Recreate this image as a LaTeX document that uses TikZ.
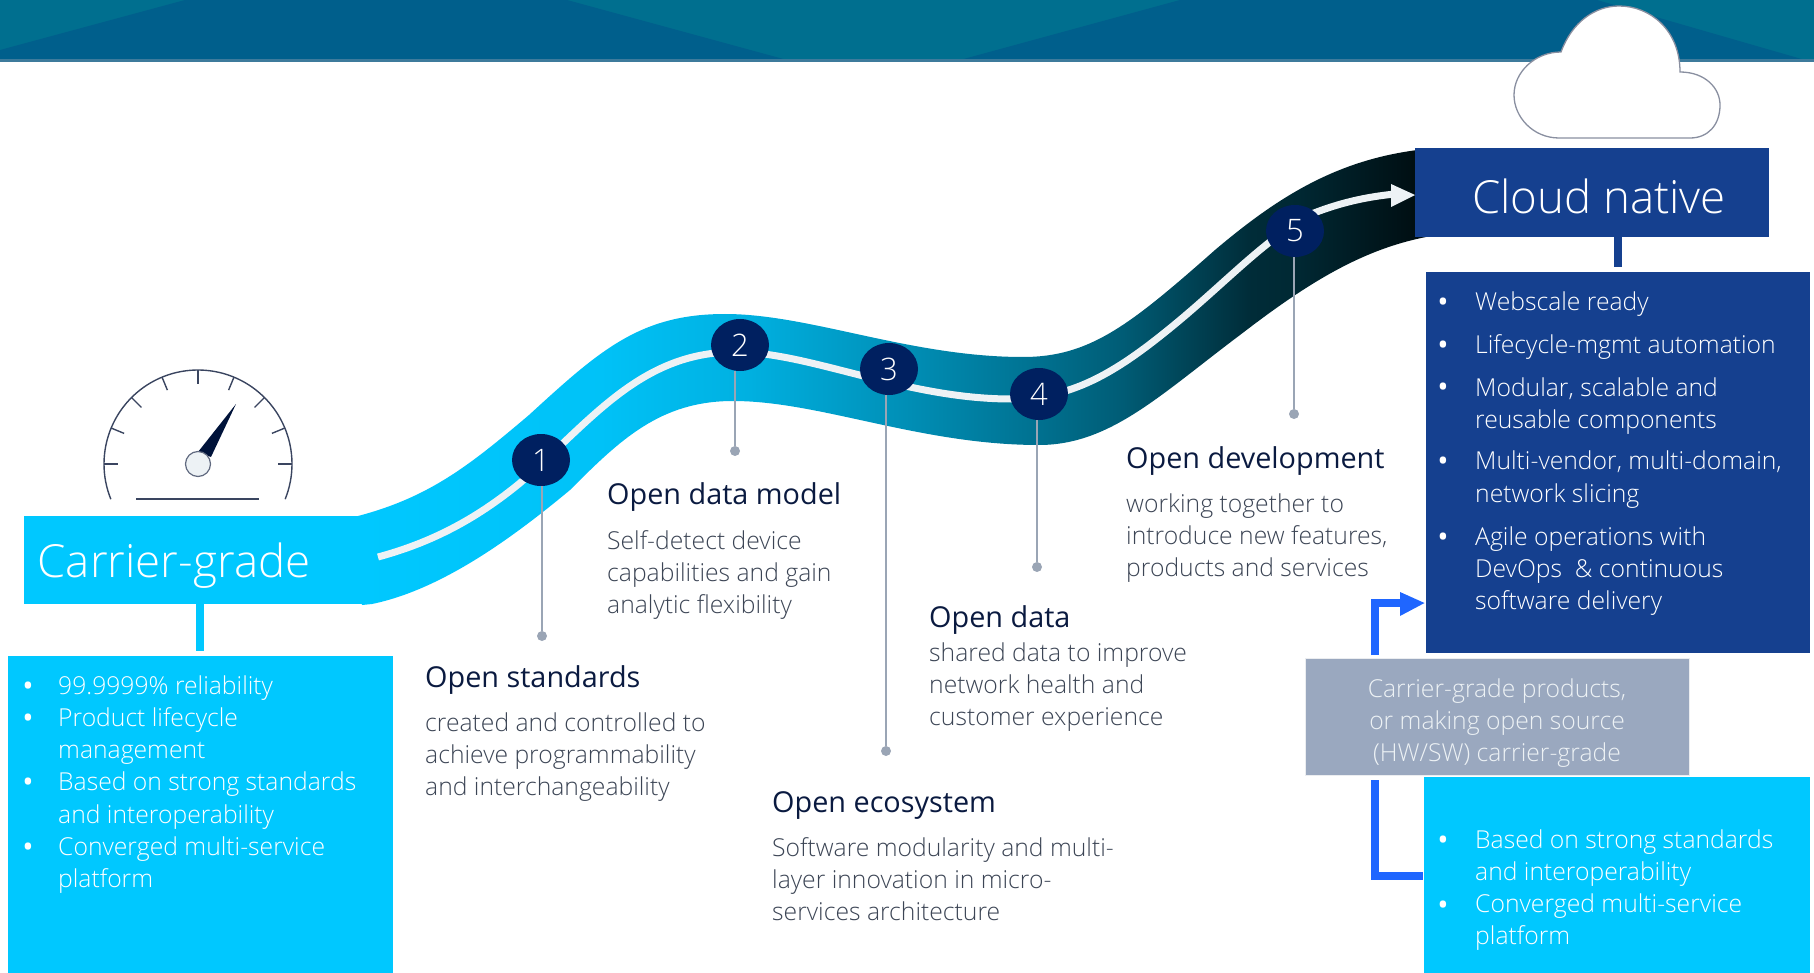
\documentclass[tikz,border=0pt]{standalone}
\usepackage{fontspec}
\setmainfont{Open Sans Light}
\newfontfamily\headf{Open Sans}
\usetikzlibrary{shapes.geometric,calc}
\definecolor{cyanb}{HTML}{00C8FF}
\definecolor{navyb}{HTML}{15408F}
\definecolor{numc}{HTML}{002060}
\definecolor{leader}{HTML}{9AA5B5}
\definecolor{greyb}{HTML}{9AA8BF}
\definecolor{offw}{HTML}{EDF2F5}
\definecolor{headt}{HTML}{006F8F}
\definecolor{headd}{HTML}{005F8C}
\definecolor{gaugec}{HTML}{3A4560}
\definecolor{headtxt}{HTML}{0A1A40}
\definecolor{bodytxt}{HTML}{3C4555}
\definecolor{arrowb}{HTML}{1F66FF}
\pgfdeclarehorizontalshading{ribbonsh}{100bp}{
 color(0bp)=(cyanb); color(25bp)=(cyanb);
 color(36.3bp)=(cyanb!97!black);
 color(43.3bp)=(cyanb!88!black);
 color(50.4bp)=(cyanb!72!black);
 color(57bp)=(cyanb!56!black);
 color(60.8bp)=(cyanb!46!black);
 color(66.8bp)=(cyanb!22!black);
 color(69bp)=(cyanb!20!black);
 color(75bp)=(cyanb!6!black);
 color(100bp)=(cyanb!6!black)}
\tikzset{
 x=1pt,y=-1pt,
 boxc/.style={fill=cyanb,draw=none},
 boxn/.style={fill=navyb,draw=none},
 numnode/.style={ellipse,fill=numc,minimum width=58pt,minimum height=52pt,inner sep=0pt,text=white,font=\fontsize{31}{31}\selectfont},
 dotnode/.style={circle,fill=leader,minimum size=10pt,inner sep=0pt},
 leaderl/.style={draw=leader,line width=2.8pt},
 headn/.style={anchor=west,inner sep=0pt,text=headtxt,font=\headf\fontsize{28.8}{32}\selectfont},
 bodyn/.style={anchor=west,inner sep=0pt,align=left,text=bodytxt,font=\fontsize{24.7}{32.2}\selectfont},
 listn/.style={anchor=west,inner sep=0pt,align=left,text=white,font=\fontsize{24.7}{32.2}\selectfont},
 buln/.style={inner sep=0pt,text=white,font=\headf\fontsize{30}{30}\selectfont},
 titlen/.style={inner sep=0pt,text=white,font=\fontsize{45.6}{46}\selectfont},
 gaugel/.style={draw=gaugec,line width=1.4pt},
 arrowl/.style={draw=arrowb,line width=8pt},
}
\begin{document}
\begin{tikzpicture}
\useasboundingbox (0,0) rectangle (1814,973);
% header
\fill[headt] (0,0) rectangle (1814,60);
\fill[headd] (185,0) -- (567,0) -- (787,60) -- (0,60) -- (0,50) -- cycle;
\fill[headd] (1180,0) -- (1597,0) -- (1805,60) -- (960,60) -- cycle;
\fill[leader!40!headd] (0,59) rectangle (1814,62);
% cloud
\draw[fill=white,draw=gaugec!60,line width=1.3pt] (1561,52)
  .. controls (1572,22) and (1595,6) .. (1619,6)
  .. controls (1650,6) and (1680,30) .. (1680,72)
  .. controls (1705,72) and (1720,88) .. (1720,105)
  .. controls (1720,125) and (1708,138) .. (1690,138)
  -- (1559,138)
  .. controls (1533,138) and (1514,117) .. (1514,95)
  .. controls (1514,72) and (1535,52) .. (1561,52) -- cycle;
% ribbon
\path[shading=ribbonsh] (358,516)
  .. controls (430,497) and (470,465) .. (529,415)
  .. controls (600,350) and (640,314) .. (725,314)
  .. controls (810,314) and (910,357) .. (1023,357)
  .. controls (1090,357) and (1130,325) .. (1215,250)
  .. controls (1280,195) and (1340,158) .. (1426,149)
  -- (1426,237)
  .. controls (1360,250) and (1305,285) .. (1240,335)
  .. controls (1160,395) and (1110,445) .. (1039,445)
  .. controls (920,445) and (820,401) .. (733,401)
  .. controls (660,401) and (620,440) .. (570,490)
  .. controls (510,540) and (440,590) .. (372,604)
  -- (362,605) -- cycle;
% white centre line
\draw[offw,line width=7pt] (378,557)
  .. controls (430,543) and (475,520) .. (520,483)
  .. controls (590,422) and (640,352) .. (735,352)
  .. controls (810,352) and (905,399) .. (1011,399)
  .. controls (1075,399) and (1120,370) .. (1180,320)
  .. controls (1230,278) and (1270,235) .. (1314,213)
  .. controls (1340,203) and (1365,197) .. (1395,194);
\fill[offw] (1391,184) -- (1415,195) -- (1391,207) -- cycle;
% boxes
\fill[boxc] (24,516) rectangle (362,604);
\node[titlen] (tcg) at (174,566) {Carrier-grade};
\fill[boxc] (196,604) rectangle (204,651);
\fill[boxc] (8,656) rectangle (393,973);
\fill[boxn] (1415,148) rectangle (1769,237);
\node[titlen] (tcn) at (1599,196) {Cloud native};
\fill[boxn] (1614,237) rectangle (1622,267);
\fill[boxn] (1426,272) rectangle (1810,653);
\fill[boxc] (1424,777) rectangle (1810,973);
\draw[fill=greyb,draw=white!80!leader,line width=1pt] (1305,658) rectangle (1689,775);
% blue arrows
\coordinate (au) at (1375,655);
\coordinate (ak) at (1402,603);
\draw[arrowl] (au) -- (au |- ak) -- (ak);
\fill[arrowb] (1400,592) -- (1424.5,603) -- (1400,616) -- cycle;
\coordinate (al) at (1375,780);
\coordinate (am) at (1423,876);
\draw[arrowl] (al) -- (al |- am) -- (am);
% gauge
\begin{scope}[shift={(198,464)}]
 \draw[gaugel] plot[domain=202:-22,samples=80] ({94*cos(\x)},{94*sin(-\x)});
 \foreach \a in {0,22.5,45,67.5,90,112.5,135,157.5,180}
  \draw[gaugel] ({94*cos(\a)},{-94*sin(\a)}) -- ({80*cos(\a)},{-80*sin(\a)});
 \draw[gaugel] (-62,35) -- (61,35);
 \fill[numc!60!black] (0,-12) -- (38,-60) -- (13,-7) -- cycle;
 \draw[fill=offw,draw=gaugec!80,line width=1.2pt] (0,0) circle (12.5);
\end{scope}
% leaders and numbered nodes
\node[dotnode] (d1) at (542,636) {};
\node[dotnode] (d2) at (735,451) {};
\node[dotnode] (d3) at (886,751) {};
\node[dotnode] (d4) at (1037,567) {};
\node[dotnode] (d5) at (1294,414) {};
\node[numnode] (c1) at (541,460) {\raisebox{-4pt}{1}};
\node[numnode] (c2) at (740,345) {\raisebox{-4pt}{2}};
\node[numnode] (c3) at (889,369) {\raisebox{-4pt}{3}};
\node[numnode] (c4) at (1039,394) {\raisebox{-4pt}{4}};
\node[numnode] (c5) at (1295,231) {\raisebox{-4pt}{5}};
\draw[leaderl] (d1) -- (d1 |- c1.south);
\draw[leaderl] (d2) -- (d2 |- c2.south);
\draw[leaderl] (d3) -- (d3 |- c3.south);
\draw[leaderl] (d4) -- (d4 |- c4.south);
\draw[leaderl] (d5) -- (d5 |- c5.south);
% text
\node[headn] (h1) at (425,680) {Open standards};
\node[bodyn] (t1) at (425,757) {created and controlled to\\achieve programmability\\and interchangeability};
\node[headn] (h2) at (607,497.5) {Open data model};
\node[bodyn] (t2) at (607,575) {Self-detect device\\capabilities and gain\\analytic flexibility};
\node[headn] (h3) at (772,805.5) {Open ecosystem};
\node[bodyn] (t3) at (772,879) {Software modularity and multi-\\layer innovation in micro-\\services architecture};
\node[headn] (h4) at (929,620) {Open data};
\node[bodyn] (t4) at (929,687) {shared data to improve\\network health and\\customer experience};
\node[headn] (h5) at (1126,461.5) {Open development};
\node[bodyn] (t5) at (1126,538) {working together to\\introduce new features,\\products and services};
% left list
\node[listn] (ll) at (58,784.5) {99.9999\% reliability\\Product lifecycle\\management\\Based on strong standards\\and interoperability\\Converged multi-service\\platform};
\foreach \n/\y in {a/689,b/721,c/785,d/850}
  \node[buln] (bl\n) at (28,\y) {•};
% right list
\node[listn] (rl) at (1475,453.5) {Webscale ready\\[11pt]Lifecycle-mgmt automation\\[11pt]Modular, scalable and\\reusable components\\[9pt]Multi-vendor, multi-domain,\\network slicing\\[11pt]Agile operations with\\DevOps~ \& continuous\\software delivery};
\foreach \n/\y in {a/305,b/348,c/390,d/464,e/540}
  \node[buln] (br\n) at (1443,\y) {•};
% grey box
\node[listn,anchor=center,align=center,text=offw] (gt) at (1497,723) {Carrier-grade products,\\or making open source\\(HW/SW) carrier-grade};
% right cyan list
\node[listn] (rc) at (1475,890) {Based on strong standards\\and interoperability\\Converged multi-service\\platform};
\foreach \n/\y in {a/843,b/908}
  \node[buln] (bc\n) at (1443,\y) {•};
\end{tikzpicture}
\end{document}
